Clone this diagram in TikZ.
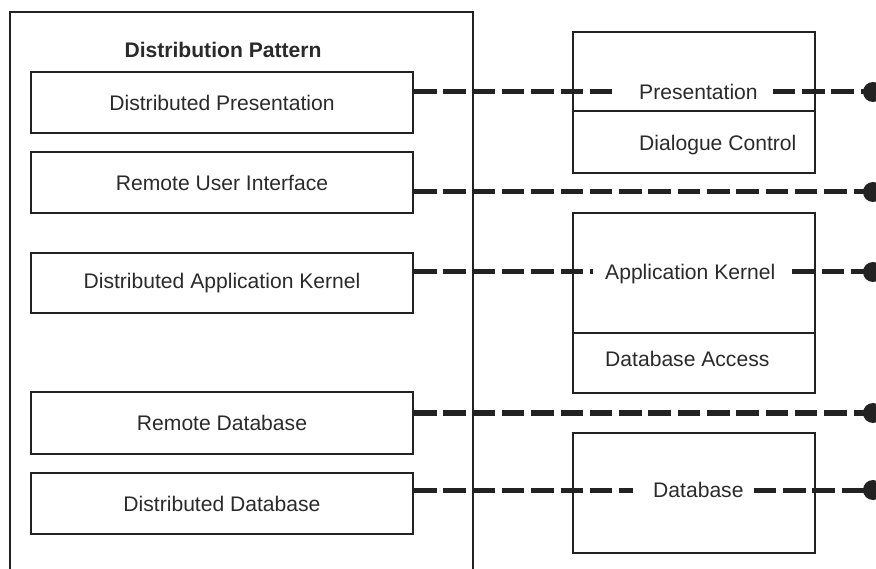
\documentclass[tikz,border=0pt]{standalone}
\usepackage{fontspec}
\setmainfont{Liberation Sans}
\definecolor{ink}{HTML}{222222}
\definecolor{txt}{HTML}{2A2A2A}
\begin{document}
\begin{tikzpicture}[x=1pt,y=-1pt,
  box/.style={draw=ink,line width=2pt,minimum width=#1,inner sep=0pt,font=\fontsize{21.1}{25}\selectfont,text=txt},
  label/.style={inner sep=0pt,anchor=west,text depth=0pt,font=\fontsize{21.1}{25}\selectfont,text=txt},
  conn/.style={draw=ink,line width=5pt,dash pattern=on 22.5pt off 6.8pt},
  enddot/.style={circle,fill=ink,minimum size=20pt,inner sep=0pt}]
\useasboundingbox (0,0) rectangle (876,569);
\begin{scope}
\clip (0,0) rectangle (876,569);
% outer frame
\draw[ink,line width=2pt] (10,575) -- (10,12) -- (473,12) -- (473,575);
\node[font=\bfseries\fontsize{21.1}{25}\selectfont,text=txt] (title) at (223,50) {Distribution Pattern};
% left boxes
\node[box=382pt,minimum height=61pt] (b1) at (222,102.5) {Distributed Presentation};
\node[box=382pt,minimum height=61pt] (b2) at (222,182.5) {Remote User Interface};
\node[box=382pt,minimum height=60pt] (b3) at (222,283) {Distributed Application Kernel};
\node[box=382pt,minimum height=62pt] (b4) at (222,423) {Remote Database};
\node[box=382pt,minimum height=61pt] (b5) at (222,503.5) {Distributed Database};
% right boxes
\node[box=242pt,minimum height=79pt] (r1a) at (694,71.5) {};
\node[box=242pt,minimum height=62pt] (r1b) at (694,142) {};
\node[box=242pt,minimum height=120pt] (r2a) at (694,273) {};
\node[box=242pt,minimum height=60pt] (r2b) at (694,363) {};
\node[box=242pt,minimum height=120pt] (r3) at (694,493) {};
% right labels
\node[label] (pres) at (639,92) {Presentation};
\node[label] (dlg) at (639,143) {Dialogue Control};
\node[label] (ak) at (605,272) {Application Kernel};
\node[label] (dba) at (605,359) {Database Access};
\node[label] (db) at (653,490) {Database};
% end dots
\node[enddot] (d1) at (873,92) {};
\node[enddot] (d2) at (873,192) {};
\node[enddot] (d3) at (873,272) {};
\node[enddot] (d4) at (873,413) {};
\node[enddot] (d5) at (873,490) {};
% connectors
\draw[conn,shorten >=27pt] (b1.east |- pres.west) -- (pres.west);
\draw[conn,shorten <=15pt] (pres.east) -- (d1.center);
\draw[conn] (b2.east |- d2) -- (d2.center);
\draw[conn,shorten >=12pt] (b3.east |- ak.west) -- (ak.west);
\draw[conn,shorten <=17pt] (ak.east) -- (d3.center);
\draw[conn] (b4.east |- d4) -- (d4.center);
\draw[conn,shorten >=20pt] (b5.east |- db.west) -- (db.west);
\draw[conn,shorten <=10pt] (db.east) -- (d5.center);
\end{scope}
\end{tikzpicture}
\end{document}
